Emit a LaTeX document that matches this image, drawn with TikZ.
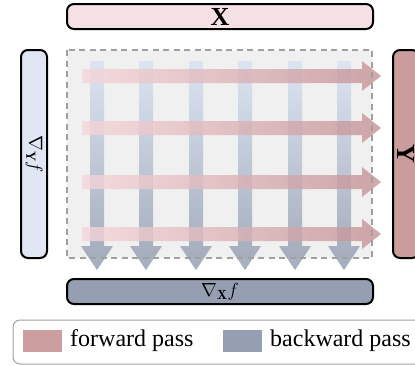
\RequirePackage{fix-cm}
\documentclass[tikz,border=0pt]{standalone}
\usepackage{fontspec}
\newfontfamily\legendfont{Liberation Serif}
\definecolor{fwdLight}{RGB}{246,214,218}
\definecolor{fwdDark}{RGB}{196,146,150}
\definecolor{bwdLight}{RGB}{214,225,242}
\definecolor{bwdDark}{RGB}{136,147,168}
\definecolor{xfill}{RGB}{245,225,227}
\definecolor{yfill}{RGB}{203,156,158}
\definecolor{gyfill}{RGB}{224,230,243}
\definecolor{gxfill}{RGB}{150,159,178}
\definecolor{gridfill}{RGB}{240,240,240}
\definecolor{gridborder}{RGB}{160,160,160}
\definecolor{fwdswatch}{RGB}{204,158,160}
\definecolor{bwdswatch}{RGB}{150,159,177}
\tikzset{
  varbox/.style={draw=black, line width=2pt, rounded corners=7pt, inner sep=0pt},
  hbox/.style={varbox, minimum width=306pt, minimum height=25pt},
  vbox/.style={varbox, minimum width=26pt, minimum height=208pt},
  fwdarrow/.style={left color=fwdLight, right color=fwdDark, fill opacity=0.8},
  bwdarrow/.style={top color=bwdLight, bottom color=bwdDark, fill opacity=0.75},
  swatch/.style={inner sep=0pt, minimum width=39pt, minimum height=22pt},
  bigvar/.style={inner sep=0pt, font=\legendfont\bfseries\fontsize{26}{28}\selectfont},
  gradlabel/.style={inner sep=0pt, font=\fontsize{19}{21}\selectfont},
  legtext/.style={inner sep=0pt, anchor=west, font=\legendfont\fontsize{24}{26}\selectfont}
}
\begin{document}
\begin{tikzpicture}[x=1pt,y=-1pt]
\useasboundingbox (0,0) rectangle (415,365);
\clip (0,0) rectangle (415,365);
% grid area
\fill[gridfill] (67,50) rectangle (372,258);
% backward (vertical) arrows
\foreach \cx in {97,146,196,245,295,344}{
  \shade[bwdarrow] (\cx-7,61) -- (\cx+7,61) -- (\cx+7,246) -- (\cx+16,246) -- (\cx,270) -- (\cx-16,246) -- (\cx-7,246) -- cycle;
}
% forward (horizontal) arrows
\foreach \cy in {76,128,182,234}{
  \shade[fwdarrow] (82,\cy-7) -- (362,\cy-7) -- (362,\cy-15) -- (381,\cy) -- (362,\cy+15) -- (362,\cy+7) -- (82,\cy+7) -- cycle;
}
\draw[gridborder, line width=2pt, dash pattern=on 6pt off 4.5pt] (67,50) rectangle (372,258);
% boxes
\node[hbox, fill=xfill] (X) at (220,16.5) {};
\node[bigvar] (Xlabel) at (X.center) {X};
\node[hbox, fill=gxfill] (gX) at (220,291.5) {};
\node[gradlabel] (gXlabel) at (gX.center) {$\nabla_{\mathbf{X}} f$};
\node[vbox, fill=gyfill] (gY) at (34,154) {};
\node[gradlabel, rotate=-90] (gYlabel) at (gY.center) {$\nabla_{\mathbf{Y}} f$};
\node[vbox, fill=yfill] (Y) at (406,154) {};
\node[bigvar, rotate=-90] (Ylabel) at (Y.center) {Y};
% legend
\draw[gridborder, line width=1pt, rounded corners=7pt] (13,320) rectangle (430,364);
\node[swatch, fill=fwdswatch] (fsw) at (42.5,341) {};
\node[legtext] (ftext) at (70,341) {forward pass};
\node[swatch, fill=bwdswatch] (bsw) at (242.5,341) {};
\node[legtext] (btext) at (270,341) {backward pass};
\end{tikzpicture}
\end{document}
